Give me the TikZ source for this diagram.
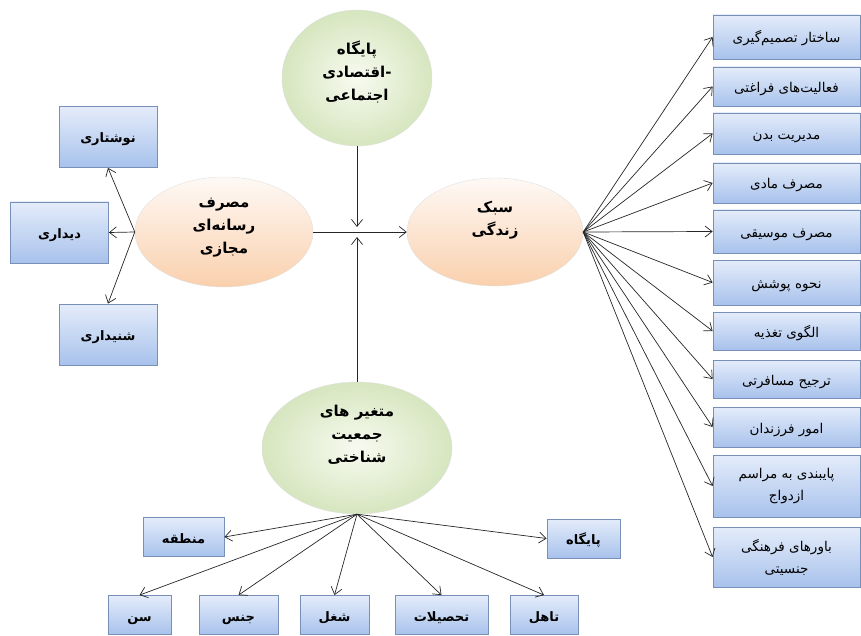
\documentclass[tikz,border=0pt]{standalone}
\usepackage{fontspec}
\usetikzlibrary{shapes.geometric, arrows.meta, positioning}
\newfontfamily\arabicfont[Script=Arabic]{DejaVu Sans}
\TeXXeTstate=1
\newcommand{\fatext}[1]{\beginR #1\endR}
\definecolor{boxtop}{HTML}{E4ECFA}
\definecolor{boxbot}{HTML}{A8C2EC}
\definecolor{boxline}{HTML}{7890B8}
\definecolor{greenin}{HTML}{F8FAF0}
\definecolor{greenout}{HTML}{D6E6BF}
\definecolor{peachtop}{HTML}{FEF9F5}
\definecolor{peachbot}{HTML}{FAD0AD}

\begin{document}
\begin{tikzpicture}[
    x=1pt, y=-1pt,
    box/.style={rectangle, draw=boxline, line width=0.8pt, top color=boxtop, bottom color=boxbot, align=center, font=\arabicfont\fontsize{13.5}{22}\selectfont, inner sep=2pt, text height=15pt, text depth=3pt},
    twoline/.style={text height={}, text depth={}},
    rbox/.style={box, minimum width=147pt, minimum height=41pt},
    lbox/.style={box, minimum width=98pt, minimum height=61pt, font=\arabicfont\bfseries\fontsize{13}{22}\selectfont},
    dbox/.style={box, minimum height=39pt, font=\arabicfont\bfseries\fontsize{13}{22}\selectfont},
    oval/.style={ellipse, draw=black!12},
    ovaltext/.style={align=center, font=\arabicfont\bfseries\fontsize{15}{23}\selectfont, inner sep=0pt},
    greenoval/.style={oval, inner color=greenin, outer color=greenout},
    peachoval/.style={oval, top color=peachtop, bottom color=peachbot},
    arrow/.style={-{Straight Barb[length=7pt, width=11pt]}, line width=0.7pt, black!85}
]
\useasboundingbox (0,0) rectangle (861,636);

% Central ellipses
\node[greenoval, minimum width=150pt, minimum height=136pt,
  label={[ovaltext, yshift=6pt]center:{\fatext{پایگاه}\\\fatext{-اقتصادی}\\\fatext{اجتماعی}}}] (paygah) at (357,78) {};
\node[peachoval, minimum width=178pt, minimum height=110pt,
  label={[ovaltext, yshift=4pt]center:{\fatext{مصرف}\\\fatext{رسانه‌ای}\\\fatext{مجازی}}}] (media) at (224,232) {};
\node[peachoval, minimum width=176pt, minimum height=108pt,
  label={[ovaltext, yshift=12pt]center:{\fatext{سبک}\\\fatext{زندگی}}}] (lifestyle) at (495,232) {};
\node[greenoval, minimum width=190pt, minimum height=132pt,
  label={[ovaltext, yshift=13pt]center:{\beginR متغیر های\endR\\\fatext{جمعیت}\\\fatext{شناختی}}}] (demog) at (357,448) {};

% Junction points
\coordinate (jtop) at (357,227);
\coordinate (jbot) at (357,237);

% Media types
\node[lbox] (written) at (108,137) {\fatext{نوشتاری}};
\node[lbox] (visual) at (59.5,232.5) {\fatext{دیداری}};
\node[lbox] (audio) at (108,334.5) {\fatext{شنیداری}};

% Lifestyle dimensions
\node[rbox, minimum height=44pt] (r1) at (786.5,37) {\fatext{ساختار تصمیم‌گیری}};
\node[rbox, minimum height=39pt] (r2) at (786.5,86.5) {\fatext{فعالیت‌های فراغتی}};
\node[rbox] (r3) at (786.5,133.5) {\fatext{مدیریت بدن}};
\node[rbox, minimum height=40pt] (r4) at (786.5,183) {\fatext{مصرف مادی}};
\node[rbox, minimum height=43pt] (r5) at (786.5,231.5) {\fatext{مصرف موسیقی}};
\node[rbox, minimum height=45pt] (r6) at (786.5,282.5) {\fatext{نحوه پوشش}};
\node[rbox, minimum height=38pt] (r7) at (786.5,331) {\fatext{الگوی تغذیه}};
\node[rbox, minimum height=38pt] (r8) at (786.5,379) {\fatext{ترجیح مسافرتی}};
\node[rbox, minimum height=40pt] (r9) at (786.5,427) {\fatext{امور فرزندان}};
\node[rbox, twoline, minimum height=62pt] (r10) at (786.5,486) {\fatext{پایبندی به مراسم}\\\fatext{ازدواج}};
\node[rbox, twoline, minimum height=60pt] (r11) at (786.5,557) {\fatext{باورهای فرهنگی}\\\fatext{جنسیتی}};

% Demographic variables
\node[dbox, minimum width=81pt] (region) at (183.5,537) {\fatext{منطقه}};
\node[dbox, minimum width=73pt] (status) at (583.5,538.5) {\fatext{پایگاه}};
\node[dbox, minimum width=63pt] (age) at (139.5,615) {\fatext{سن}};
\node[dbox, minimum width=79pt] (gender) at (238.5,615) {\fatext{جنس}};
\node[dbox, minimum width=69pt] (job) at (334.5,615) {\fatext{شغل}};
\node[dbox, minimum width=93pt] (edu) at (441.5,615) {\fatext{تحصیلات}};
\node[dbox, minimum width=68pt] (marital) at (544,615) {\fatext{تاهل}};

% Arrows
\draw[arrow] (paygah) -- (jtop);
\draw[arrow] (demog) -- (jbot);
\draw[arrow] (media) -- (lifestyle);
\draw[arrow] (media.west) -- (written.south);
\draw[arrow] (media.west) -- (visual.east);
\draw[arrow] (media.west) -- (audio.north);
\foreach \r in {r1,r2,r3,r4,r5,r6,r7,r8,r9,r10,r11}
  \draw[arrow] (lifestyle.east) -- (\r.west);
\draw[arrow] (demog.south) -- (region.east);
\draw[arrow] (demog.south) -- (status.west);
\draw[arrow] (demog.south) -- (age.north);
\draw[arrow] (demog.south) -- (gender.north);
\draw[arrow] (demog.south) -- (job.north);
\draw[arrow] (demog.south) -- (edu.north);
\draw[arrow] (demog.south) -- (marital.north);

\end{tikzpicture}
\end{document}
